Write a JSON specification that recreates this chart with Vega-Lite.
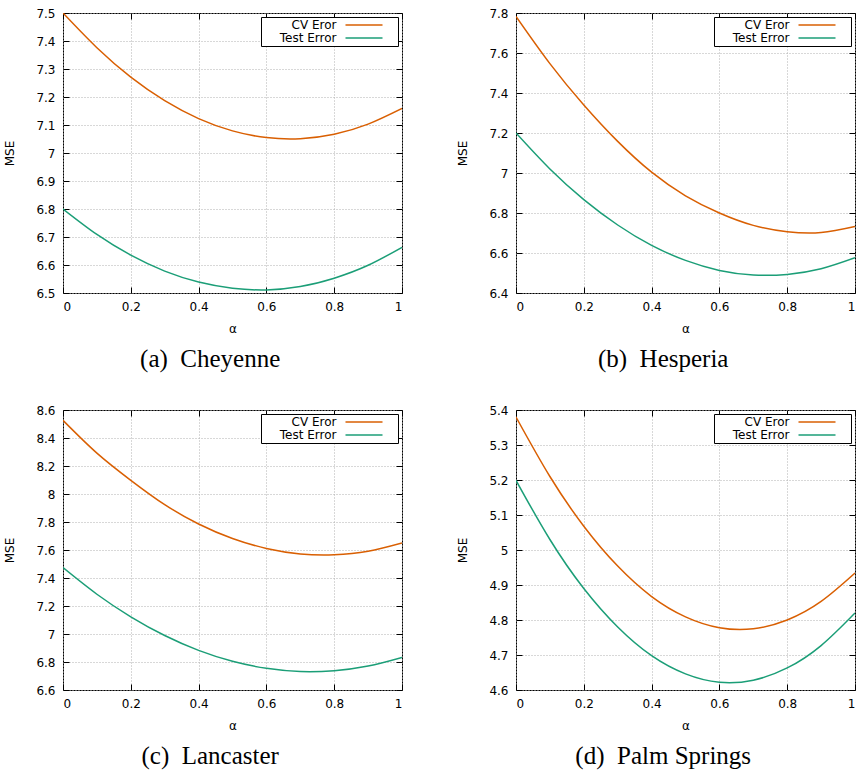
{
  "$schema": "https://vega.github.io/schema/vega-lite/v6.json",
  "padding": {"left": 3, "top": 6, "right": 0, "bottom": 0},
  "background": "white",
  "config": {
    "view": {"stroke": "black", "strokeWidth": 1},
    "axis": {
      "labelFont": "DejaVu Sans", "labelFontSize": 12, "labelColor": "black",
      "titleFont": "DejaVu Sans", "titleFontSize": 12, "titleFontWeight": "normal", "titleColor": "black",
      "domain": false, "tickColor": "black", "tickSize": -6, "tickWidth": 1,
      "gridColor": "#b0b0b0", "gridDash": [1, 2], "gridWidth": 1, "gridOpacity": 1,
      "labelPadding": 14
    },
    "axisX": {"titlePadding": 11},
    "axisY": {"titlePadding": 19},
    "legend": {
      "orient": "top-right", "offset": 4, "strokeColor": "black", "fillColor": "white",
      "padding": 2, "labelFont": "DejaVu Sans", "labelFontSize": 12, "labelColor": "black",
      "symbolType": "M-3.7,0H3.7M5.7,0", "symbolSize": 100, "symbolStrokeWidth": 1.5,
      "symbolOffset": 95, "labelAlign": "right", "labelOffset": -33.5, "labelLimit": 200,
      "rowPadding": 1, "cornerRadius": 0,
      "labelExpr": "'\u00a0\u00a0\u00a0' + datum.label"
    },
    "title": {"font": "Liberation Serif", "fontSize": 25, "fontWeight": "normal", "color": "black", "orient": "bottom", "anchor": "middle", "frame": "bounds", "offset": 13, "dx": 7}
  },
  "data": {"values": [
    {"city": "Cheyenne", "series": "CV Eror", "alpha": 0.0, "mse": 7.500},
    {"city": "Cheyenne", "series": "CV Eror", "alpha": 0.1, "mse": 7.376},
    {"city": "Cheyenne", "series": "CV Eror", "alpha": 0.2, "mse": 7.271},
    {"city": "Cheyenne", "series": "CV Eror", "alpha": 0.3, "mse": 7.187},
    {"city": "Cheyenne", "series": "CV Eror", "alpha": 0.4, "mse": 7.123},
    {"city": "Cheyenne", "series": "CV Eror", "alpha": 0.5, "mse": 7.079},
    {"city": "Cheyenne", "series": "CV Eror", "alpha": 0.6, "mse": 7.055},
    {"city": "Cheyenne", "series": "CV Eror", "alpha": 0.7, "mse": 7.051},
    {"city": "Cheyenne", "series": "CV Eror", "alpha": 0.8, "mse": 7.067},
    {"city": "Cheyenne", "series": "CV Eror", "alpha": 0.9, "mse": 7.103},
    {"city": "Cheyenne", "series": "CV Eror", "alpha": 1.0, "mse": 7.159},
    {"city": "Cheyenne", "series": "Test Error", "alpha": 0.0, "mse": 6.800},
    {"city": "Cheyenne", "series": "Test Error", "alpha": 0.1, "mse": 6.709},
    {"city": "Cheyenne", "series": "Test Error", "alpha": 0.2, "mse": 6.635},
    {"city": "Cheyenne", "series": "Test Error", "alpha": 0.3, "mse": 6.578},
    {"city": "Cheyenne", "series": "Test Error", "alpha": 0.4, "mse": 6.539},
    {"city": "Cheyenne", "series": "Test Error", "alpha": 0.5, "mse": 6.517},
    {"city": "Cheyenne", "series": "Test Error", "alpha": 0.6, "mse": 6.511},
    {"city": "Cheyenne", "series": "Test Error", "alpha": 0.7, "mse": 6.523},
    {"city": "Cheyenne", "series": "Test Error", "alpha": 0.8, "mse": 6.553},
    {"city": "Cheyenne", "series": "Test Error", "alpha": 0.9, "mse": 6.599},
    {"city": "Cheyenne", "series": "Test Error", "alpha": 1.0, "mse": 6.663},
    {"city": "Hesperia", "series": "CV Eror", "alpha": 0.0, "mse": 7.783},
    {"city": "Hesperia", "series": "CV Eror", "alpha": 0.1, "mse": 7.547},
    {"city": "Hesperia", "series": "CV Eror", "alpha": 0.2, "mse": 7.340},
    {"city": "Hesperia", "series": "CV Eror", "alpha": 0.3, "mse": 7.158},
    {"city": "Hesperia", "series": "CV Eror", "alpha": 0.4, "mse": 7.004},
    {"city": "Hesperia", "series": "CV Eror", "alpha": 0.5, "mse": 6.886},
    {"city": "Hesperia", "series": "CV Eror", "alpha": 0.6, "mse": 6.800},
    {"city": "Hesperia", "series": "CV Eror", "alpha": 0.7, "mse": 6.738},
    {"city": "Hesperia", "series": "CV Eror", "alpha": 0.8, "mse": 6.706},
    {"city": "Hesperia", "series": "CV Eror", "alpha": 0.9, "mse": 6.702},
    {"city": "Hesperia", "series": "CV Eror", "alpha": 1.0, "mse": 6.732},
    {"city": "Hesperia", "series": "Test Error", "alpha": 0.0, "mse": 7.200},
    {"city": "Hesperia", "series": "Test Error", "alpha": 0.1, "mse": 7.020},
    {"city": "Hesperia", "series": "Test Error", "alpha": 0.2, "mse": 6.867},
    {"city": "Hesperia", "series": "Test Error", "alpha": 0.3, "mse": 6.740},
    {"city": "Hesperia", "series": "Test Error", "alpha": 0.4, "mse": 6.638},
    {"city": "Hesperia", "series": "Test Error", "alpha": 0.5, "mse": 6.563},
    {"city": "Hesperia", "series": "Test Error", "alpha": 0.6, "mse": 6.513},
    {"city": "Hesperia", "series": "Test Error", "alpha": 0.7, "mse": 6.490},
    {"city": "Hesperia", "series": "Test Error", "alpha": 0.8, "mse": 6.493},
    {"city": "Hesperia", "series": "Test Error", "alpha": 0.9, "mse": 6.521},
    {"city": "Hesperia", "series": "Test Error", "alpha": 1.0, "mse": 6.576},
    {"city": "Lancaster", "series": "CV Eror", "alpha": 0.0, "mse": 8.526},
    {"city": "Lancaster", "series": "CV Eror", "alpha": 0.1, "mse": 8.292},
    {"city": "Lancaster", "series": "CV Eror", "alpha": 0.2, "mse": 8.098},
    {"city": "Lancaster", "series": "CV Eror", "alpha": 0.3, "mse": 7.924},
    {"city": "Lancaster", "series": "CV Eror", "alpha": 0.4, "mse": 7.786},
    {"city": "Lancaster", "series": "CV Eror", "alpha": 0.5, "mse": 7.682},
    {"city": "Lancaster", "series": "CV Eror", "alpha": 0.6, "mse": 7.611},
    {"city": "Lancaster", "series": "CV Eror", "alpha": 0.7, "mse": 7.572},
    {"city": "Lancaster", "series": "CV Eror", "alpha": 0.8, "mse": 7.566},
    {"city": "Lancaster", "series": "CV Eror", "alpha": 0.9, "mse": 7.591},
    {"city": "Lancaster", "series": "CV Eror", "alpha": 1.0, "mse": 7.650},
    {"city": "Lancaster", "series": "Test Error", "alpha": 0.0, "mse": 7.474},
    {"city": "Lancaster", "series": "Test Error", "alpha": 0.1, "mse": 7.284},
    {"city": "Lancaster", "series": "Test Error", "alpha": 0.2, "mse": 7.123},
    {"city": "Lancaster", "series": "Test Error", "alpha": 0.3, "mse": 6.989},
    {"city": "Lancaster", "series": "Test Error", "alpha": 0.4, "mse": 6.883},
    {"city": "Lancaster", "series": "Test Error", "alpha": 0.5, "mse": 6.805},
    {"city": "Lancaster", "series": "Test Error", "alpha": 0.6, "mse": 6.755},
    {"city": "Lancaster", "series": "Test Error", "alpha": 0.7, "mse": 6.732},
    {"city": "Lancaster", "series": "Test Error", "alpha": 0.8, "mse": 6.738},
    {"city": "Lancaster", "series": "Test Error", "alpha": 0.9, "mse": 6.771},
    {"city": "Lancaster", "series": "Test Error", "alpha": 1.0, "mse": 6.833},
    {"city": "Palm Springs", "series": "CV Eror", "alpha": 0.0, "mse": 5.380},
    {"city": "Palm Springs", "series": "CV Eror", "alpha": 0.1, "mse": 5.210},
    {"city": "Palm Springs", "series": "CV Eror", "alpha": 0.2, "mse": 5.068},
    {"city": "Palm Springs", "series": "CV Eror", "alpha": 0.3, "mse": 4.954},
    {"city": "Palm Springs", "series": "CV Eror", "alpha": 0.4, "mse": 4.867},
    {"city": "Palm Springs", "series": "CV Eror", "alpha": 0.5, "mse": 4.809},
    {"city": "Palm Springs", "series": "CV Eror", "alpha": 0.6, "mse": 4.778},
    {"city": "Palm Springs", "series": "CV Eror", "alpha": 0.7, "mse": 4.775},
    {"city": "Palm Springs", "series": "CV Eror", "alpha": 0.8, "mse": 4.800},
    {"city": "Palm Springs", "series": "CV Eror", "alpha": 0.9, "mse": 4.853},
    {"city": "Palm Springs", "series": "CV Eror", "alpha": 1.0, "mse": 4.934},
    {"city": "Palm Springs", "series": "Test Error", "alpha": 0.0, "mse": 5.199},
    {"city": "Palm Springs", "series": "Test Error", "alpha": 0.1, "mse": 5.030},
    {"city": "Palm Springs", "series": "Test Error", "alpha": 0.2, "mse": 4.890},
    {"city": "Palm Springs", "series": "Test Error", "alpha": 0.3, "mse": 4.780},
    {"city": "Palm Springs", "series": "Test Error", "alpha": 0.4, "mse": 4.698},
    {"city": "Palm Springs", "series": "Test Error", "alpha": 0.5, "mse": 4.646},
    {"city": "Palm Springs", "series": "Test Error", "alpha": 0.6, "mse": 4.622},
    {"city": "Palm Springs", "series": "Test Error", "alpha": 0.7, "mse": 4.628},
    {"city": "Palm Springs", "series": "Test Error", "alpha": 0.8, "mse": 4.663},
    {"city": "Palm Springs", "series": "Test Error", "alpha": 0.9, "mse": 4.727},
    {"city": "Palm Springs", "series": "Test Error", "alpha": 1.0, "mse": 4.820}
  ]},
  "columns": 2,
  "spacing": {"row": 30, "column": 53},
  "resolve": {"scale": {"x": "independent", "y": "independent", "color": "independent"}, "legend": {"color": "independent"}},
  "concat": [
    {
      "width": 339, "height": 280,
      "title": {"text": "(a)\u2002Cheyenne"},
      "transform": [{"filter": "datum.city === 'Cheyenne'"}],
      "resolve": {"axis": {"x": "independent", "y": "independent"}},
      "layer": [
        {
          "mark": {"type": "line", "interpolate": "natural", "strokeWidth": 1.5, "clip": true},
          "encoding": {
            "x": {"field": "alpha", "type": "quantitative", "scale": {"domain": [0, 1], "nice": false}, "axis": {"title": "α", "values": [0, 0.2, 0.4, 0.6, 0.8, 1], "format": "~g"}},
            "y": {"field": "mse", "type": "quantitative", "scale": {"domain": [6.5, 7.5], "nice": false, "zero": false}, "axis": {"title": "MSE", "values": [6.5, 6.6, 6.7, 6.8, 6.9, 7, 7.1, 7.2, 7.3, 7.4, 7.5], "format": "~g"}},
            "color": {"field": "series", "type": "nominal", "scale": {"domain": ["CV Eror", "Test Error"], "range": ["#d95f02", "#1b9e77"]}, "legend": {"title": null}}
          }
        },
        {
          "mark": {"type": "line", "opacity": 0},
          "encoding": {
            "x": {"field": "alpha", "type": "quantitative", "axis": {"orient": "top", "labels": false, "title": null, "grid": false, "values": [0, 0.2, 0.4, 0.6, 0.8, 1]}},
            "y": {"field": "mse", "type": "quantitative", "axis": {"orient": "right", "labels": false, "title": null, "grid": false, "values": [6.5, 6.6, 6.7, 6.8, 6.9, 7, 7.1, 7.2, 7.3, 7.4, 7.5]}}
          }
        }
      ]
    },
    {
      "width": 339, "height": 280,
      "title": {"text": "(b)\u2002Hesperia"},
      "transform": [{"filter": "datum.city === 'Hesperia'"}],
      "resolve": {"axis": {"x": "independent", "y": "independent"}},
      "layer": [
        {
          "mark": {"type": "line", "interpolate": "natural", "strokeWidth": 1.5, "clip": true},
          "encoding": {
            "x": {"field": "alpha", "type": "quantitative", "scale": {"domain": [0, 1], "nice": false}, "axis": {"title": "α", "values": [0, 0.2, 0.4, 0.6, 0.8, 1], "format": "~g"}},
            "y": {"field": "mse", "type": "quantitative", "scale": {"domain": [6.4, 7.8], "nice": false, "zero": false}, "axis": {"title": "MSE", "values": [6.4, 6.6, 6.8, 7, 7.2, 7.4, 7.6, 7.8], "format": "~g"}},
            "color": {"field": "series", "type": "nominal", "scale": {"domain": ["CV Eror", "Test Error"], "range": ["#d95f02", "#1b9e77"]}, "legend": {"title": null}}
          }
        },
        {
          "mark": {"type": "line", "opacity": 0},
          "encoding": {
            "x": {"field": "alpha", "type": "quantitative", "axis": {"orient": "top", "labels": false, "title": null, "grid": false, "values": [0, 0.2, 0.4, 0.6, 0.8, 1]}},
            "y": {"field": "mse", "type": "quantitative", "axis": {"orient": "right", "labels": false, "title": null, "grid": false, "values": [6.4, 6.6, 6.8, 7, 7.2, 7.4, 7.6, 7.8]}}
          }
        }
      ]
    },
    {
      "width": 339, "height": 280,
      "title": {"text": "(c)\u2002Lancaster"},
      "transform": [{"filter": "datum.city === 'Lancaster'"}],
      "resolve": {"axis": {"x": "independent", "y": "independent"}},
      "layer": [
        {
          "mark": {"type": "line", "interpolate": "natural", "strokeWidth": 1.5, "clip": true},
          "encoding": {
            "x": {"field": "alpha", "type": "quantitative", "scale": {"domain": [0, 1], "nice": false}, "axis": {"title": "α", "values": [0, 0.2, 0.4, 0.6, 0.8, 1], "format": "~g"}},
            "y": {"field": "mse", "type": "quantitative", "scale": {"domain": [6.6, 8.6], "nice": false, "zero": false}, "axis": {"title": "MSE", "values": [6.6, 6.8, 7, 7.2, 7.4, 7.6, 7.8, 8, 8.2, 8.4, 8.6], "format": "~g"}},
            "color": {"field": "series", "type": "nominal", "scale": {"domain": ["CV Eror", "Test Error"], "range": ["#d95f02", "#1b9e77"]}, "legend": {"title": null}}
          }
        },
        {
          "mark": {"type": "line", "opacity": 0},
          "encoding": {
            "x": {"field": "alpha", "type": "quantitative", "axis": {"orient": "top", "labels": false, "title": null, "grid": false, "values": [0, 0.2, 0.4, 0.6, 0.8, 1]}},
            "y": {"field": "mse", "type": "quantitative", "axis": {"orient": "right", "labels": false, "title": null, "grid": false, "values": [6.6, 6.8, 7, 7.2, 7.4, 7.6, 7.8, 8, 8.2, 8.4, 8.6]}}
          }
        }
      ]
    },
    {
      "width": 339, "height": 280,
      "title": {"text": "(d)\u2002Palm Springs"},
      "transform": [{"filter": "datum.city === 'Palm Springs'"}],
      "resolve": {"axis": {"x": "independent", "y": "independent"}},
      "layer": [
        {
          "mark": {"type": "line", "interpolate": "natural", "strokeWidth": 1.5, "clip": true},
          "encoding": {
            "x": {"field": "alpha", "type": "quantitative", "scale": {"domain": [0, 1], "nice": false}, "axis": {"title": "α", "values": [0, 0.2, 0.4, 0.6, 0.8, 1], "format": "~g"}},
            "y": {"field": "mse", "type": "quantitative", "scale": {"domain": [4.6, 5.4], "nice": false, "zero": false}, "axis": {"title": "MSE", "values": [4.6, 4.7, 4.8, 4.9, 5, 5.1, 5.2, 5.3, 5.4], "format": "~g"}},
            "color": {"field": "series", "type": "nominal", "scale": {"domain": ["CV Eror", "Test Error"], "range": ["#d95f02", "#1b9e77"]}, "legend": {"title": null}}
          }
        },
        {
          "mark": {"type": "line", "opacity": 0},
          "encoding": {
            "x": {"field": "alpha", "type": "quantitative", "axis": {"orient": "top", "labels": false, "title": null, "grid": false, "values": [0, 0.2, 0.4, 0.6, 0.8, 1]}},
            "y": {"field": "mse", "type": "quantitative", "axis": {"orient": "right", "labels": false, "title": null, "grid": false, "values": [4.6, 4.7, 4.8, 4.9, 5, 5.1, 5.2, 5.3, 5.4]}}
          }
        }
      ]
    }
  ]
}
